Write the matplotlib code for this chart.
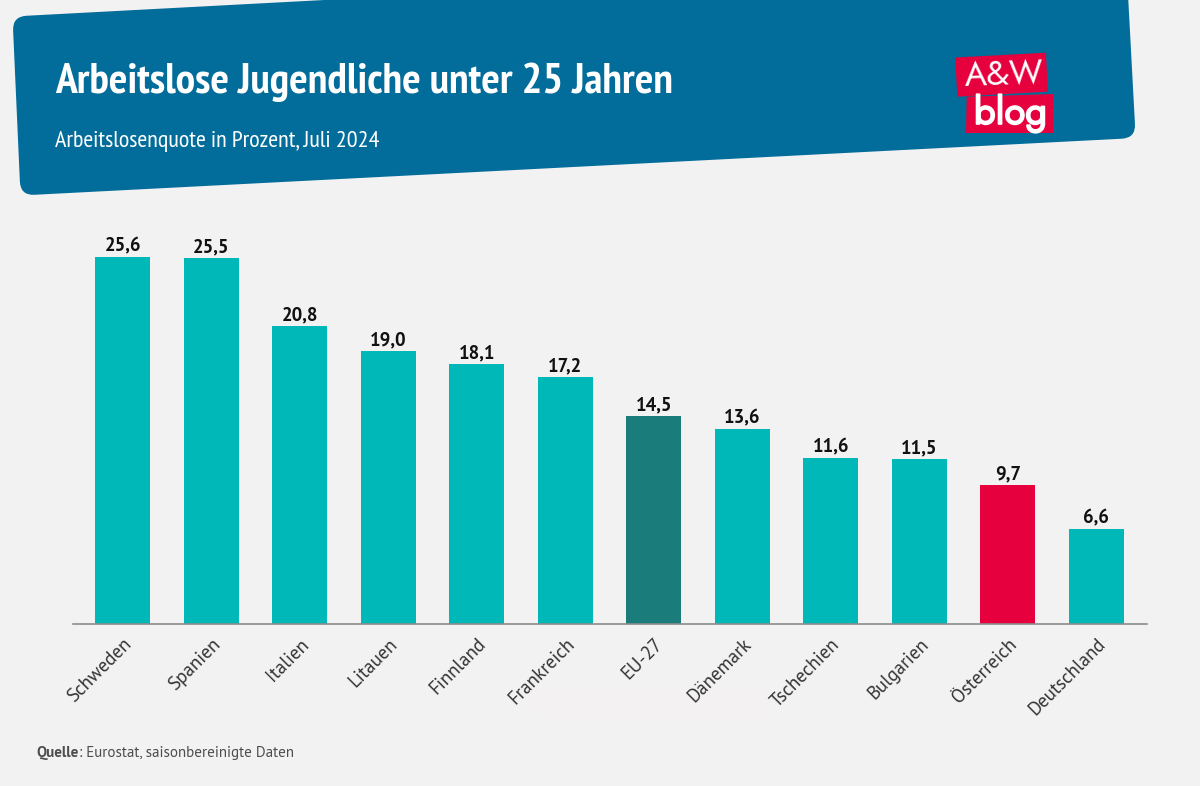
import logging
import matplotlib
matplotlib.use("Agg")
import matplotlib.pyplot as plt
import matplotlib.patheffects as pe
from matplotlib.patches import PathPatch, Polygon, Rectangle
from matplotlib.path import Path

logging.getLogger("matplotlib.font_manager").setLevel(logging.ERROR)

BG = "#F2F2F2"
BLUE = "#026C9A"
TEAL = "#00B8B8"
DARK_TEAL = "#1B7D7B"
RED = "#E6003D"

countries = ["Schweden", "Spanien", "Italien", "Litauen", "Finnland", "Frankreich",
             "EU-27", "Dänemark", "Tschechien", "Bulgarien", "Österreich", "Deutschland"]
rates = [25.6, 25.5, 20.8, 19.0, 18.1, 17.2, 14.5, 13.6, 11.6, 11.5, 9.7, 6.6]
bar_colors = [TEAL, TEAL, TEAL, TEAL, TEAL, TEAL, DARK_TEAL, TEAL, TEAL, TEAL, RED, TEAL]

W, H = 1200, 786
NARROW = ["PT Sans Narrow", "Roboto", "DejaVu Sans"]
SANS = ["PT Sans", "Open Sans", "DejaVu Sans"]
LOGO = ["Jost", "Lato", "DejaVu Sans"]


def rounded_poly(pts, r):
    # closed polygon with bezier corners, r in pixels
    verts, codes = [], []
    n = len(pts)
    for i in range(n):
        px, py = pts[i - 1]
        cx, cy = pts[i]
        nx, ny = pts[(i + 1) % n]
        d1 = ((px - cx) ** 2 + (py - cy) ** 2) ** 0.5
        d2 = ((nx - cx) ** 2 + (ny - cy) ** 2) ** 0.5
        a = (cx + (px - cx) * r / d1, cy + (py - cy) * r / d1)
        b = (cx + (nx - cx) * r / d2, cy + (ny - cy) * r / d2)
        verts.append(a)
        codes.append(Path.MOVETO if i == 0 else Path.LINETO)
        verts += [(cx, cy), b]
        codes += [Path.CURVE3, Path.CURVE3]
    verts.append(verts[0])
    codes.append(Path.CLOSEPOLY)
    return Path(verts, codes)


fig = plt.figure(figsize=(W / 100, H / 100), dpi=100, facecolor=BG)

# overlay in pixel coords for the banner, logo and captions
deco = fig.add_axes([0, 0, 1, 1])
deco.set_xlim(0, W)
deco.set_ylim(H, 0)
deco.axis("off")

deco.add_patch(PathPatch(rounded_poly([(12.5, 16.5), (400, -4), (1127, -24), (1135.7, 138), (20.5, 195.5)], 14),
                         facecolor=BLUE, edgecolor="none"))
deco.text(55, 82, "Arbeitslose Jugendliche unter 25 Jahren", color="white", fontsize=31.3,
          fontweight="bold", family=NARROW, va="center", ha="left")
deco.text(55, 141.5, "Arbeitslosenquote in Prozent, Juli 2024", color="white", fontsize=17.4,
          family=NARROW, va="center", ha="left")

deco.add_patch(Polygon([(955.3, 57.5), (1046, 52.7), (1047.7, 91.7), (957.3, 96.7)], facecolor=RED, edgecolor="none"))
deco.add_patch(Polygon([(966.7, 96.7), (1053, 94), (1053, 133), (966, 133)], facecolor=RED, edgecolor="none"))
deco.text(1004, 75, "A&W", color="white", fontsize=24.5, family=LOGO, va="center", ha="center", rotation=2)
blog = deco.text(1010.5, 113, "blog", color="white", fontsize=27.5, family=LOGO, va="center", ha="center")
blog.set_path_effects([pe.withStroke(linewidth=1.2, foreground="white")])

# faint lighter patch under the labels
deco.add_patch(Rectangle((533, 690), 239, 26, facecolor="#F3F1F2", edgecolor="none"))

deco.text(36, 753, "Quelle", color="#4D4D4D", fontsize=10.8, fontweight="bold", family=SANS, va="center")
deco.text(79, 753, ": Eurostat, saisonbereinigte Daten", color="#4D4D4D", fontsize=10.8, family=SANS, va="center")

# chart axes, baseline at y=624 px
left, right, top, base = 73, 1147, 200, 624
ax = fig.add_axes([left / W, 1 - base / H, (right - left) / W, (base - top) / H])
ax.patch.set_alpha(0)
bars = ax.bar(range(len(rates)), rates, width=0.62, color=bar_colors)
ax.set_xlim(-0.562, 11.573)
ax.set_ylim(0, (base - top) / 14.35)

for bar, value in zip(bars, rates):
    ax.text(bar.get_x() + bar.get_width() / 2, value + 0.1, f"{value:.1f}".replace(".", ","),
            ha="center", va="bottom", fontsize=13.5, fontweight="bold", color="#111111", family=SANS)

ax.set_yticks([])
ax.set_xticks(range(len(countries)))
ax.set_xticklabels(countries, rotation=45, ha="right", rotation_mode="anchor",
                   fontsize=13.6, color="#333333", family=SANS)
ax.tick_params(axis="x", length=0, pad=8)
for side in ["top", "left", "right"]:
    ax.spines[side].set_visible(False)
ax.spines["bottom"].set_color("#8C8C8C")
ax.spines["bottom"].set_linewidth(1.2)

fig.savefig("out.png", dpi=100, facecolor=BG)
